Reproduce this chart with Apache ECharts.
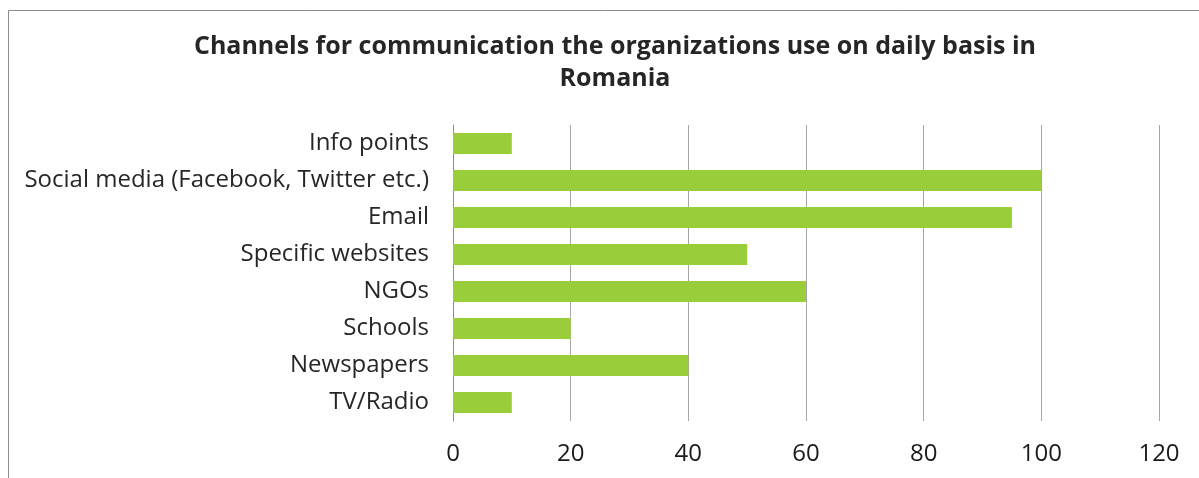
<!DOCTYPE html>
<html>
<head>
<meta charset="utf-8">
<style>
  html, body { margin: 0; padding: 0; background: #fff; }
  #chart { width: 1199px; height: 478px; }
</style>
<script src="https://cdn.jsdelivr.net/npm/echarts@6/dist/echarts.min.js"></script>
</head>
<body>
<div id="chart"></div>
<script>
// Channels, listed top to bottom as shown on the chart
const channels = [
  'Info points',
  'Social media (Facebook, Twitter etc.)',
  'Email',
  'Specific websites',
  'NGOs',
  'Schools',
  'Newspapers',
  'TV/Radio'
];
const usage = [10, 100, 95, 50, 60, 20, 40, 10];
const xTicks = [0, 20, 40, 60, 80, 100, 120];

const FONT = '"Open Sans", "Lato", sans-serif';

const chart = echarts.init(document.getElementById('chart'), null, { renderer: 'canvas' });

chart.setOption({
  animation: false,
  backgroundColor: '#ffffff',
  title: {
    text: 'Channels for communication the organizations use on daily basis in\nRomania',
    left: 610,
    textAlign: 'center',
    top: 26,
    textStyle: {
      fontFamily: FONT,
      fontWeight: 'bold',
      fontSize: 25,
      lineHeight: 32,
      color: '#262626'
    }
  },
  graphic: [
    { type: 'line', shape: { x1: 8.5, y1: 10.5, x2: 1199, y2: 10.5 }, style: { stroke: '#8c8c8c', lineWidth: 1 } },
    { type: 'line', shape: { x1: 8.5, y1: 10.5, x2: 8.5, y2: 478 }, style: { stroke: '#8c8c8c', lineWidth: 1 } }
  ],
  grid: {
    left: 453,
    right: 1199 - 1159,
    top: 125,
    bottom: 478 - 421,
    containLabel: false
  },
  xAxis: {
    type: 'value',
    min: xTicks[0],
    max: xTicks[xTicks.length - 1],
    interval: 20,
    axisLine: { show: false },
    axisTick: { show: false },
    splitLine: { show: true, lineStyle: { color: '#a6a6a6', width: 1 } },
    axisLabel: {
      margin: 21,
      fontFamily: FONT,
      fontSize: 24,
      color: '#1a1a1a'
    }
  },
  yAxis: {
    type: 'category',
    data: channels,
    inverse: true,
    axisLine: { show: true, lineStyle: { color: '#8c8c8c', width: 1 } },
    axisTick: { show: false },
    axisLabel: {
      margin: 24,
      fontFamily: FONT,
      fontSize: 24,
      color: '#262626'
    }
  },
  series: [{
    type: 'bar',
    data: usage,
    barCategoryGap: '43%',
    itemStyle: { color: '#9acd3a' }
  }]
});
</script>
</body>
</html>
